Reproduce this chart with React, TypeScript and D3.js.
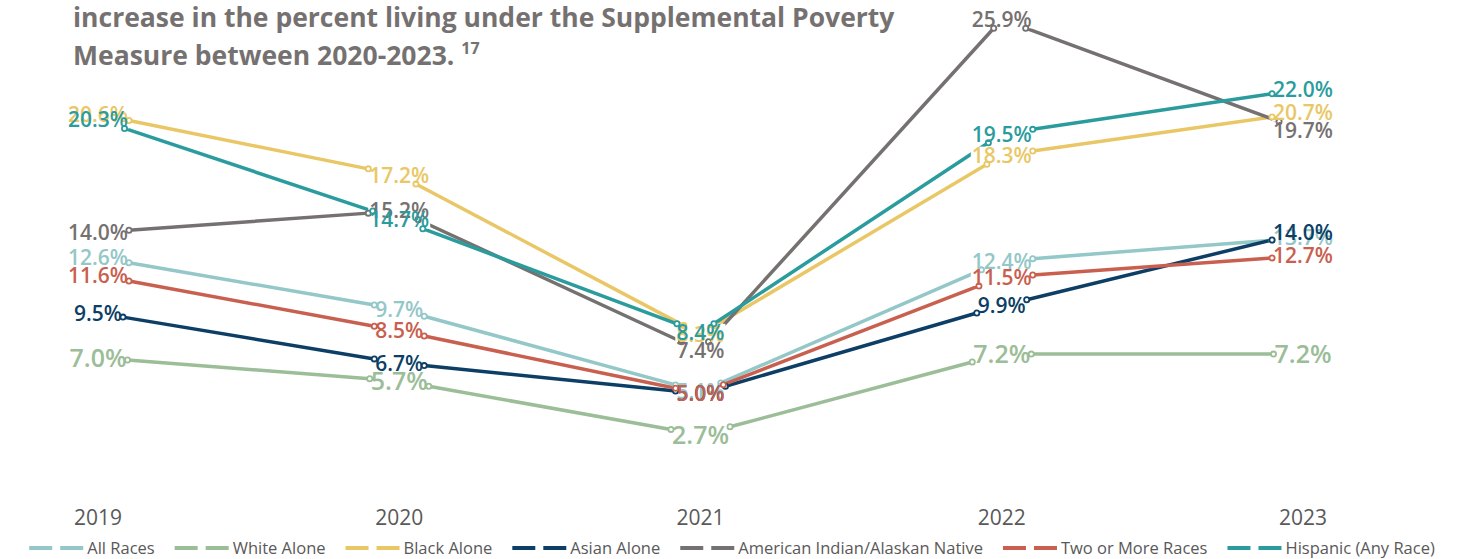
import { useEffect, useRef } from "react";
import * as d3 from "d3";

const years = ["2019", "2020", "2021", "2022", "2023"];

const seriesNames = [
  "All Races",
  "White Alone",
  "Black Alone",
  "Asian Alone",
  "American Indian/Alaskan Native",
  "Two or More Races",
  "Hispanic (Any Race)",
];

const seriesColors = ["#93c7c8", "#9bbd97", "#e9c766", "#0d3f66", "#767171", "#c9604f", "#2b9c9e"];

const allRaces = [12.6, 9.7, 5.1, 12.4, 13.7];
const whiteAlone = [7.0, 5.7, 2.7, 7.2, 7.2];
const blackAlone = [20.6, 17.2, 8.3, 18.3, 20.7];
const asianAlone = [9.5, 6.7, 5.0, 9.9, 14.0];
const aianNative = [14.0, 15.2, 7.4, 25.9, 19.7];
const twoOrMore = [11.6, 8.5, 5.0, 11.5, 12.7];
const hispanic = [20.3, 14.7, 8.4, 19.5, 22.0];

const seriesValues = [allRaces, whiteAlone, blackAlone, asianAlone, aianNative, twoOrMore, hispanic];

const titleLines = ["increase in the percent living under the Supplemental Poverty", "Measure between 2020-2023."];
const footnote = "17";

const App = () => {
  const svgRef = useRef<SVGSVGElement>(null);

  useEffect(() => {
    const svg = d3.select(svgRef.current);
    svg.selectAll("*").remove();

    const width = 1464;
    const height = 559;
    svg.attr("width", width).attr("height", height);

    const x = d3.scalePoint<string>().domain(years).range([98, 1303]);
    const y = d3.scaleLinear().domain([0, 30]).range([483, -54]);

    // Title
    const title = svg
      .append("g")
      .style("font-family", "'Open Sans', sans-serif")
      .style("font-weight", 700)
      .style("font-size", "26.5px")
      .attr("fill", "#767171");
    title.append("text").attr("x", 73).attr("y", 27).text(titleLines[0]);
    const t2 = title.append("text").attr("x", 73).attr("y", 65).text(titleLines[1] + " ");
    t2.append("tspan").attr("dy", -11).style("font-size", "16px").text(footnote);

    // Year labels
    svg
      .append("g")
      .selectAll("text")
      .data(years)
      .join("text")
      .attr("x", (d) => x(d)!)
      .attr("y", 525)
      .attr("text-anchor", "middle")
      .style("font-family", "'Open Sans', sans-serif")
      .style("font-size", "21px")
      .attr("fill", "#595959")
      .text((d) => d);

    const lineLayer = svg.append("g");
    const knockLayer = svg.append("g");
    const markerLayer = svg.append("g");
    const labelLayer = svg.append("g");

    // Labels first (measured), so lines can stop at their boxes
    const boxes = seriesValues.map((vals, si) => {
      const fs = si === 1 ? 25 : 21;
      return vals.map((v, i) => {
        const t = labelLayer
          .append("text")
          .attr("x", x(years[i])!)
          .attr("y", y(v))
          .attr("dy", "0.36em")
          .attr("text-anchor", "middle")
          .style("font-family", "'Open Sans', sans-serif")
          .style("font-weight", 600)
          .style("font-size", `${fs}px`)
          .attr("fill", seriesColors[si])
          .text(`${v.toFixed(1)}%`);
        const w = (t.node() as SVGTextElement).getComputedTextLength();
        return { cx: x(years[i])!, cy: y(v), hw: w / 2 + 1, hh: fs * 0.42 };
      });
    });

    seriesValues.forEach((vals, si) => {
      const color = seriesColors[si];
      for (let i = 0; i < vals.length - 1; i++) {
        const a = boxes[si][i];
        const b = boxes[si][i + 1];
        const dx = b.cx - a.cx;
        const dy = b.cy - a.cy;
        const ta = Math.min(a.hw / Math.abs(dx || 1e-6), a.hh / Math.abs(dy || 1e-6));
        const tb = Math.min(b.hw / Math.abs(dx || 1e-6), b.hh / Math.abs(dy || 1e-6));
        if (ta + tb >= 1) continue;
        const p0: [number, number] = [a.cx + dx * ta, a.cy + dy * ta];
        const p1: [number, number] = [a.cx + dx * (1 - tb), a.cy + dy * (1 - tb)];
        lineLayer
          .append("path")
          .attr("d", d3.line()([p0, p1]))
          .attr("fill", "none")
          .attr("stroke", color)
          .attr("stroke-width", 3.5)
          .attr("stroke-linecap", "round");
        [p0, p1].forEach((p) => {
          markerLayer
            .append("circle")
            .attr("cx", p[0])
            .attr("cy", p[1])
            .attr("r", 2.6)
            .attr("fill", "#fff")
            .attr("stroke", color)
            .attr("stroke-width", 1.8);
        });
      }
    });

    // White knock-outs behind every label
    boxes.flat().forEach((b) => {
      knockLayer
        .append("rect")
        .attr("x", b.cx - b.hw)
        .attr("y", b.cy - b.hh)
        .attr("width", b.hw * 2)
        .attr("height", b.hh * 2)
        .attr("fill", "#fff");
    });

    // Legend
    const legend = svg.append("g");
    const items = seriesNames.map((name, i) => {
      const g = legend.append("g");
      g.append("line")
        .attr("x1", 0)
        .attr("x2", 54)
        .attr("y1", 0)
        .attr("y2", 0)
        .attr("stroke", seriesColors[i])
        .attr("stroke-width", 4)
        .attr("stroke-dasharray", "23,8");
      const t = g
        .append("text")
        .attr("x", 58)
        .attr("y", 0)
        .attr("dy", "0.35em")
        .style("font-family", "'Liberation Sans Narrow', 'Open Sans', sans-serif")
        .style("font-size", "16.5px")
        .attr("fill", "#595959")
        .text(name);
      const w = 58 + (t.node() as SVGTextElement).getComputedTextLength();
      return { g, w };
    });
    const gap = 20;
    const total = d3.sum(items, (d) => d.w) + gap * (items.length - 1);
    let cx = (width - total) / 2;
    items.forEach((it) => {
      it.g.attr("transform", `translate(${cx},548)`);
      cx += it.w + gap;
    });
  }, []);

  return <svg ref={svgRef} style={{ position: "absolute", left: 0, top: 0, display: "block" }} />;
};

export default App;
